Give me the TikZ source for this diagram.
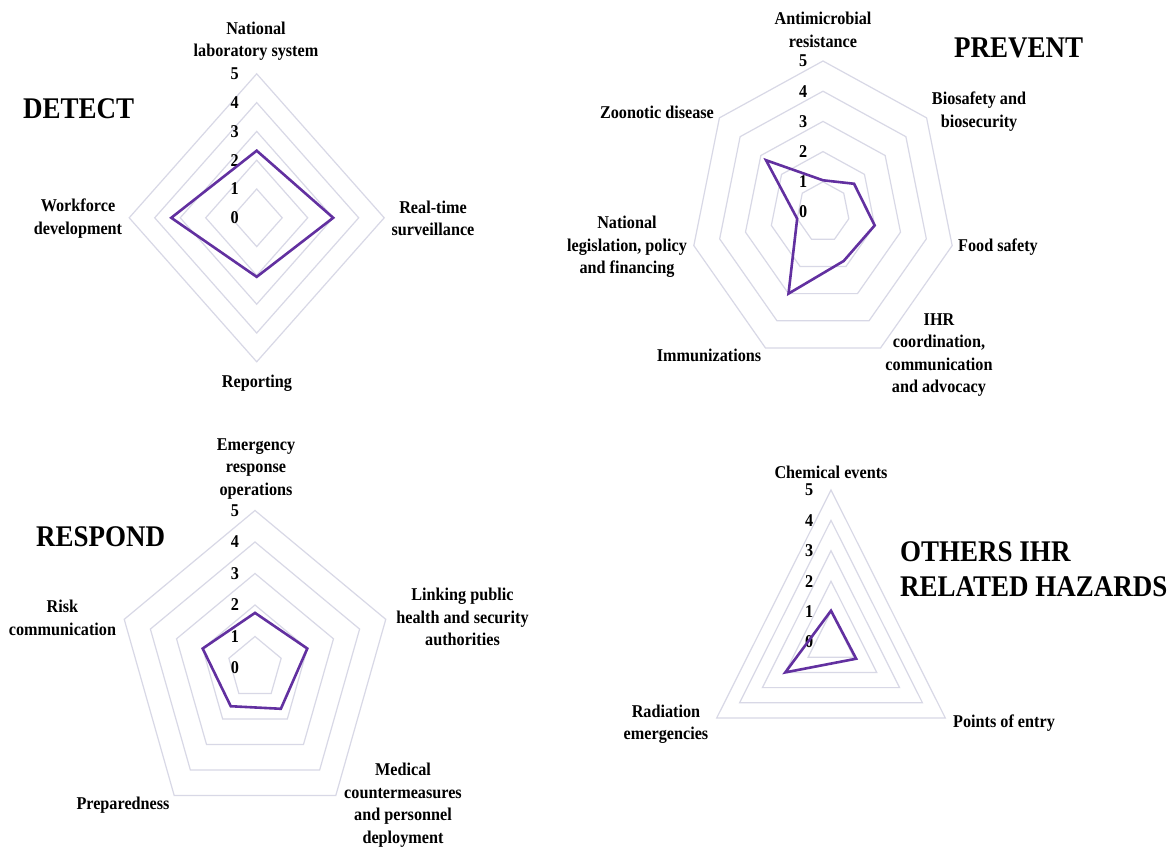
\documentclass[tikz,border=0pt]{standalone}
\usepackage{fontspec}
\setmainfont{Liberation Serif}[FakeStretch=0.9]
\definecolor{gridc}{RGB}{216,216,230}
\definecolor{datac}{RGB}{98,48,160}
\begin{document}
\begin{tikzpicture}[x=1pt,y=-1pt,
  ring/.style={draw=gridc, line width=1.2pt, line join=miter},
  dataline/.style={draw=datac, line width=2.6pt, line join=miter},
  lbl/.style={font=\fontsize{18}{22.5}\selectfont\bfseries, align=center, inner sep=0pt},
  lvl/.style={font=\fontsize{18}{22}\selectfont\bfseries, inner sep=0pt},
  ttl/.style={font=\fontsize{30}{35}\selectfont\bfseries, inner sep=0pt, align=left}]
\fill[white] (0,0) rectangle (1176,851);
\path[use as bounding box] (0,0) rectangle (1176,851);

% ---------------- DETECT ----------------
\node[ttl, anchor=west] (tdetect) at (23,109) {DETECT};
\begin{scope}[shift={(256.7,217.8)}, x=25.5pt, y=28.8pt]
  \foreach \k in {1,...,5}{
    \draw[ring] (90:\k) -- (0:\k) -- (-90:\k) -- (180:\k) -- cycle;
  }
  \foreach \k in {0,...,5}{
    \node[lvl] (dl\k) at (-0.86,\k) {\k};
  }
  \draw[dataline] (90:2.33) -- (0:3) -- (-90:2.05) -- (180:3.35) -- cycle;
\end{scope}
\node[lbl] (dnat) at (256,41) {National\\laboratory system};
\node[lbl] (dwork) at (78,218.5) {Workforce\\development};
\node[lbl] (dreal) at (433,218.5) {Real-time\\surveillance};
\node[lbl] (drep) at (257,383) {Reporting};

% ---------------- PREVENT ----------------
\node[ttl, anchor=west] (tprevent) at (954,48) {PREVENT};
\begin{scope}[shift={(823,212)}, x=26.5pt, y=30.2pt]
  \foreach \k in {1,...,5}{
    \draw[ring] (90:\k) -- (38.571:\k) -- (-12.857:\k) -- (-64.286:\k)
      -- (-115.714:\k) -- (-167.143:\k) -- (141.429:\k) -- cycle;
  }
  \foreach \k in {0,...,5}{
    \node[lvl] (pl\k) at (-0.75,\k) {\k};
  }
  \draw[dataline] (90:1.05) -- (38.571:1.5) -- (-12.857:2) -- (-64.286:1.8)
    -- (-115.714:3) -- (-167.143:1) -- (141.429:2.75) -- cycle;
\end{scope}
\node[lbl] (pamr) at (823,30) {Antimicrobial\\resistance};
\node[lbl] (pzoo) at (657,112) {Zoonotic disease};
\node[lbl] (pbio) at (979,111.5) {Biosafety and\\biosecurity};
\node[lbl] (pleg) at (627,247) {National\\legislation, policy\\and financing};
\node[lbl] (pfood) at (998,247) {Food safety};
\node[lbl] (pihr) at (939,355) {IHR\\coordination,\\communication\\and advocacy};
\node[lbl] (pimm) at (709,355) {Immunizations};

% ---------------- RESPOND ----------------
\node[ttl, anchor=west] (trespond) at (36,537) {RESPOND};
\begin{scope}[shift={(255,668)}, x=27.5pt, y=31.5pt]
  \foreach \k in {1,...,5}{
    \draw[ring] (90:\k) -- (18:\k) -- (-54:\k) -- (-126:\k) -- (162:\k) -- cycle;
  }
  \foreach \k in {0,...,5}{
    \node[lvl] (rl\k) at (-0.73,\k) {\k};
  }
  \draw[dataline] (90:1.75) -- (18:2) -- (-54:1.6) -- (-126:1.5) -- (162:2) -- cycle;
\end{scope}
\node[lbl] (remer) at (256,469) {Emergency\\response\\operations};
\node[lbl] (rlink) at (462.5,617) {Linking public\\health and security\\authorities};
\node[lbl] (rmed) at (403,805) {Medical\\countermeasures\\and personnel\\deployment};
\node[lbl] (rprep) at (123,805) {Preparedness};
\node[lbl] (rrisk) at (62.5,618) {Risk\\communication};

% ---------------- OTHERS ----------------
\node[ttl, anchor=west] (tothers) at (900,569.5) {OTHERS IHR\\RELATED HAZARDS};
\begin{scope}[shift={(831,642)}, x=26.4pt, y=30.4pt]
  \foreach \k in {1,...,5}{
    \draw[ring] (90:\k) -- (-30:\k) -- (210:\k) -- cycle;
  }
  \foreach \k in {0,...,5}{
    \node[lvl] (ol\k) at (-0.83,\k) {\k};
  }
  \draw[dataline] (90:1.03) -- (-30:1.1) -- (210:2) -- cycle;
\end{scope}
\node[lbl] (ochem) at (831,472) {Chemical events};
\node[lbl] (orad) at (666,724) {Radiation\\emergencies};
\node[lbl] (opoe) at (1004,723) {Points of entry};
\end{tikzpicture}
\end{document}
